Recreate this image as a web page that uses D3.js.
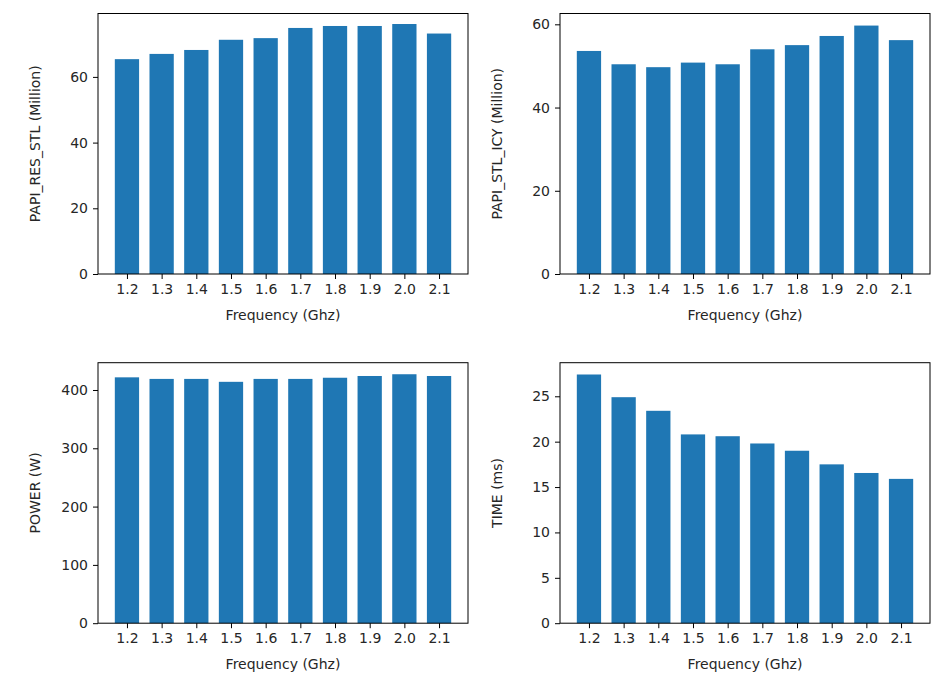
<!DOCTYPE html>
<html>
<head>
<meta charset="utf-8">
<script src="https://cdn.jsdelivr.net/npm/d3@7"></script>
<style>
  body { margin: 0; background: #fff; }
  text { font-family: "DejaVu Sans", sans-serif; fill: #262626; }
</style>
</head>
<body>
<svg id="chart" width="935" height="700"></svg>
<script>
const freqs = [1.2, 1.3, 1.4, 1.5, 1.6, 1.7, 1.8, 1.9, 2.0, 2.1];
const freqLabels = ["1.2", "1.3", "1.4", "1.5", "1.6", "1.7", "1.8", "1.9", "2.0", "2.1"];
const resStl = [65.4, 67.0, 68.2, 71.3, 71.8, 74.9, 75.5, 75.5, 76.1, 73.2];
const stlIcy = [53.6, 50.4, 49.7, 50.8, 50.4, 54.0, 55.0, 57.2, 59.7, 56.2];
const power = [421.7, 419, 419, 414, 419, 419, 421, 424, 427, 424];
const time = [27.4, 24.9, 23.4, 20.8, 20.6, 19.8, 19.0, 17.5, 16.55, 15.9];

const panels = [
  { values: resStl, label: "PAPI_RES_STL (Million)", ticks: [0, 20, 40, 60], left: 98, top: 13.5, yMax: 79.3 },
  { values: stlIcy, label: "PAPI_STL_ICY (Million)", ticks: [0, 20, 40, 60], left: 560, top: 13.5, yMax: 62.6 },
  { values: power, label: "POWER (W)", ticks: [0, 100, 200, 300, 400], left: 98, top: 362.7, yMax: 446.8 },
  { values: time, label: "TIME (ms)", ticks: [0, 5, 10, 15, 20, 25], left: 560, top: 362.7, yMax: 28.7 }
];

const svg = d3.select("#chart");
const w = 370, h = 260.5, barW = 0.07;

panels.forEach((p) => {
  const g = svg.append("g").attr("transform", `translate(${p.left},${p.top})`);
  const x = d3.scaleLinear().domain([1.1165, 2.1835]).range([0, w]);
  const y = d3.scaleLinear().domain([0, p.yMax]).range([h, 0]);

  g.selectAll(".bar")
    .data(p.values)
    .join("rect")
    .attr("x", (d, i) => x(freqs[i] - barW / 2))
    .attr("width", (d, i) => x(freqs[i] + barW / 2) - x(freqs[i] - barW / 2))
    .attr("y", (d) => y(d))
    .attr("height", (d) => h - y(d))
    .attr("fill", "#1f77b4");

  const xAxis = g.append("g").attr("transform", `translate(0,${h})`)
    .call(d3.axisBottom(x).tickValues(freqs).tickFormat((d, i) => freqLabels[i]).tickSize(5).tickPadding(5));
  const yAxis = g.append("g")
    .call(d3.axisLeft(y).tickValues(p.ticks).tickSize(5).tickPadding(5));
  [xAxis, yAxis].forEach((a) => {
    a.select(".domain").remove();
    a.selectAll("line").attr("stroke", "#000").attr("stroke-width", 1);
    a.selectAll("text").style("font-size", "14px").style("font-family", "DejaVu Sans").attr("fill", "#262626");
  });

  g.append("rect").attr("width", w).attr("height", h)
    .attr("fill", "none").attr("stroke", "#000").attr("stroke-width", 1);

  g.append("text").attr("x", w / 2).attr("y", h + 46)
    .attr("text-anchor", "middle").style("font-size", "14px").text("Frequency (Ghz)");
  g.append("text").attr("transform", `translate(-58,${h / 2}) rotate(-90)`)
    .attr("text-anchor", "middle").style("font-size", "14px").text(p.label);
});
</script>
</body>
</html>
